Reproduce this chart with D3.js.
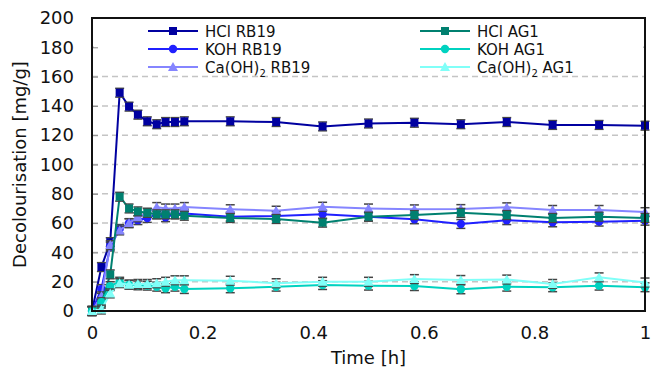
<!DOCTYPE html>
<html>
<head>
<meta charset="utf-8">
<script src="https://cdn.jsdelivr.net/npm/d3@7"></script>
<style>
  body { margin: 0; background: #fff; }
  svg { display: block; font-family: "DejaVu Sans", Verdana, sans-serif; }
</style>
</head>
<body>
<svg id="chart" width="651" height="372"></svg>
<script>
// time in hours (sampling every minute for 10 min, then every 5 min)
const times = [0, 0.017, 0.033, 0.05, 0.067, 0.083, 0.1, 0.117, 0.133, 0.15, 0.167,
  0.25, 0.333, 0.417, 0.5, 0.583, 0.667, 0.75, 0.833, 0.917, 1];

const hclRB19 = [0, 30, 47, 149, 139.5, 134, 129.5, 127.5, 129, 129, 129.5,
  129.5, 129, 126, 128, 128.5, 127.5, 129, 127, 127, 126.5];
const kohRB19 = [0, 15, 44, 56, 60, 62, 63.5, 66, 64, 66, 66.5,
  64.4, 64.8, 66, 64.4, 62.6, 59.4, 62, 60.5, 61, 61.6];
const caRB19 = [0, 10, 45, 55, 60, 64, 67, 71, 70, 70, 71,
  69.5, 68.5, 71.2, 70, 69.4, 69.6, 70.8, 69, 69, 67.5];
const hclAG1 = [0, 5, 25, 78, 70, 68, 67, 66, 66, 66, 65,
  63.5, 62.8, 60.3, 64.4, 65.5, 67, 65.5, 63.5, 64.4, 63.5];
const kohAG1 = [0, 6, 17, 20, 18, 17.5, 17.3, 16.6, 15.5, 16.6, 15,
  15.5, 16.6, 17.7, 17.3, 17, 14.8, 16.6, 16.2, 17.3, 16.2];
const caAG1 = [0, 1, 12, 19, 18, 18.5, 18.5, 19, 20, 21, 21,
  20.7, 19, 20, 20, 21.8, 21.2, 21.5, 18.5, 23, 19.5];

const seriesNames = ['HCl RB19', 'KOH RB19', 'Ca(OH)2 RB19', 'HCl AG1', 'KOH AG1', 'Ca(OH)2 AG1'];
const seriesValues = [hclRB19, kohRB19, caRB19, hclAG1, kohAG1, caAG1];
const seriesErrors = [3, 3, 3, 3, 3, 3];
const seriesColors = ['#0000a0', '#2020ff', '#8585ff', '#008070', '#00d2c0', '#80fff8'];
const seriesMarkers = ['square', 'circle', 'triangle', 'square', 'circle', 'triangle'];

const xTicks = [0, 0.2, 0.4, 0.6, 0.8, 1];
const yTicks = [0, 20, 40, 60, 80, 100, 120, 140, 160, 180, 200];

const svg = d3.select('#chart');
const plotLeft = 92, plotRight = 645, plotTop = 18, plotBottom = 311;

const x = d3.scaleLinear().domain([0, 1]).range([plotLeft, plotRight]);
const y = d3.scaleLinear().domain([0, 200]).range([plotBottom, plotTop]);

// gridlines
svg.append('g')
  .selectAll('line')
  .data(yTicks.filter(t => t > 0 && t < 200))
  .enter()
  .append('line')
  .attr('x1', plotLeft).attr('x2', plotRight)
  .attr('y1', d => y(d)).attr('y2', d => y(d))
  .attr('stroke', '#c4c4c4')
  .attr('stroke-width', 1.5)
  .attr('stroke-dasharray', '6,4')
;

// legend background hides the top gridline
svg.append('rect')
  .attr('x', plotLeft + 2).attr('y', plotTop + 2)
  .attr('width', plotRight - plotLeft - 4).attr('height', 52)
  .attr('fill', '#fff')
;

// axes
const yAxis = svg.append('g')
  .attr('transform', `translate(${plotLeft},0)`)
  .call(d3.axisLeft(y).tickValues(yTicks).tickSize(-6).tickPadding(18).tickFormat(d3.format('d')));
yAxis.select('.domain').remove();
yAxis.selectAll('line').attr('stroke', '#888').attr('stroke-width', 1);
yAxis.selectAll('text').attr('font-size', 18).attr('fill', '#111').attr('font-family', '"DejaVu Sans", Verdana, sans-serif');

const xAxis = svg.append('g')
  .attr('transform', `translate(0,${plotBottom})`)
  .call(d3.axisBottom(x).tickValues(xTicks).tickSize(0).tickPadding(15).tickFormat(d3.format('~g')));
xAxis.select('.domain').remove();
xAxis.selectAll('text').attr('font-size', 18).attr('fill', '#111').attr('font-family', '"DejaVu Sans", Verdana, sans-serif');

svg.append('text')
  .attr('x', (plotLeft + plotRight) / 2).attr('y', 364)
  .attr('text-anchor', 'middle')
  .attr('font-size', 18).attr('fill', '#111')
  .text('Time [h]');

svg.append('text')
  .attr('transform', `translate(26,${(plotTop + plotBottom) / 2}) rotate(-90)`)
  .attr('text-anchor', 'middle')
  .attr('font-size', 18).attr('fill', '#111')
  .text('Decolourisation [mg/g]');

function marker(sel, kind, color) {
  if(kind === 'square') {
    sel.append('rect').attr('x', -4).attr('y', -4).attr('width', 8).attr('height', 8).attr('fill', color);
  } else if(kind === 'circle') {
    sel.append('circle').attr('r', 4.2).attr('fill', color);
  } else {
    sel.append('path').attr('d', 'M0,-5L5,4L-5,4Z').attr('fill', color);
  }
}

const line = d3.line().x(d => x(d[0])).y(d => y(d[1]));

seriesValues.forEach((vals, i) => {
  const pts = vals.map((v, j) => [times[j], v]);
  const g = svg.append('g');
  const err = seriesErrors[i];

  g.append('path')
    .attr('d', line(pts))
    .attr('fill', 'none')
    .attr('stroke', seriesColors[i])
    .attr('stroke-width', 2);

  const eb = g.selectAll('.eb').data(pts).enter().append('g');
  eb.append('line')
    .attr('x1', d => x(d[0])).attr('x2', d => x(d[0]))
    .attr('y1', d => y(d[1] - err)).attr('y2', d => y(d[1] + err))
    .attr('stroke', '#444').attr('stroke-width', 1.5);
  [-1, 1].forEach(s => {
    eb.append('line')
      .attr('x1', d => x(d[0]) - 4.5).attr('x2', d => x(d[0]) + 4.5)
      .attr('y1', d => y(d[1] + s * err)).attr('y2', d => y(d[1] + s * err))
      .attr('stroke', '#444').attr('stroke-width', 1.5);
  });

  g.selectAll('.mk').data(pts).enter().append('g')
    .attr('transform', d => `translate(${x(d[0])},${y(d[1])})`)
    .each(function() { marker(d3.select(this), seriesMarkers[i], seriesColors[i]); });
});

// legend
const legend = svg.append('g');
seriesNames.forEach((name, i) => {
  const col = Math.floor(i / 3), row = i % 3;
  const lx = col === 0 ? 148 : 420;
  const ly = 31 + row * 18;
  const item = legend.append('g').attr('transform', `translate(${lx},${ly})`);
  item.append('line')
    .attr('x1', 0).attr('x2', 50)
    .attr('stroke', seriesColors[i]).attr('stroke-width', 2);
  marker(item.append('g').attr('transform', 'translate(25,0)'), seriesMarkers[i], seriesColors[i]);
  const t = item.append('text')
    .attr('x', 57).attr('y', 5.5)
    .attr('font-size', 15).attr('fill', '#111');
  if(name.startsWith('Ca(OH)2')) {
    t.append('tspan').text('Ca(OH)');
    t.append('tspan').attr('font-size', 10).attr('dy', 4).text('2');
    t.append('tspan').attr('dy', -4).text(' ' + name.slice(8));
  } else {
    t.text(name);
  }
});

// plot frame
svg.append('rect')
  .attr('x', plotLeft).attr('y', plotTop)
  .attr('width', plotRight - plotLeft).attr('height', plotBottom - plotTop)
  .attr('fill', 'none')
  .attr('stroke', '#111')
  .attr('stroke-width', 2);
</script>
</body>
</html>
